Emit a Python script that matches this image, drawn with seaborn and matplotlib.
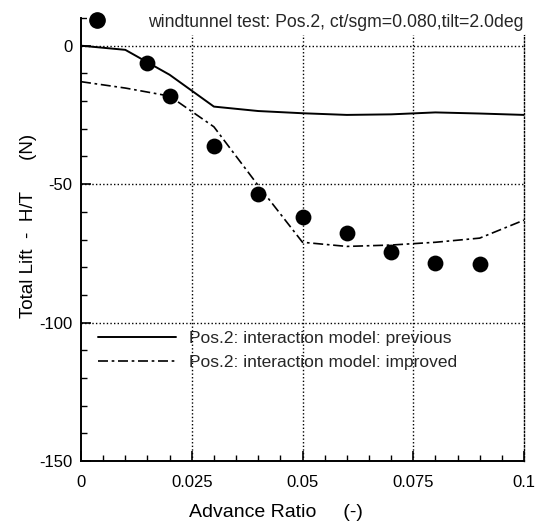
import matplotlib
matplotlib.use("Agg")
import matplotlib.pyplot as plt
from matplotlib.lines import Line2D
from matplotlib.ticker import MultipleLocator, FixedLocator
import seaborn as sns
import pandas as pd

# Advance ratio stations for the two interaction-model predictions
mu_model = [0.0, 0.01, 0.02, 0.03, 0.04, 0.05, 0.06, 0.07, 0.08, 0.09, 0.10]
lift_previous = [0.0, -1.5, -10.5, -22.0, -23.6, -24.4, -25.0, -24.8, -24.1, -24.5, -25.0]
lift_improved = [-13.0, -15.3, -18.2, -29.3, -50.5, -71.0, -72.5, -72.0, -71.0, -69.5, -63.0]

# Wind-tunnel measurements
mu_test = [0.015, 0.020, 0.030, 0.040, 0.050, 0.060, 0.070, 0.080, 0.090]
lift_test = [-6.2, -18.1, -36.2, -53.6, -62.0, -67.8, -74.6, -78.6, -79.0]

x_ticks = [0, 0.025, 0.05, 0.075, 0.1]
x_tick_labels = ["0", "0.025", "0.05", "0.075", "0.1"]
y_ticks = [0, -50, -100, -150]
y_tick_labels = ["0", "-50", "-100", "-150"]

label_test = "windtunnel test: Pos.2, ct/sgm=0.080,tilt=2.0deg"
label_previous = "Pos.2: interaction model: previous"
label_improved = "Pos.2: interaction model: improved"

sns.set_style("white")
plt.rcParams["font.family"] = ["Liberation Sans", "DejaVu Sans"]

fig = plt.figure(figsize=(5.41, 5.28), dpi=100)
ax = fig.add_axes([81 / 541, 1 - 461 / 528, 443 / 541, 443 / 528])

model = pd.DataFrame({"mu": mu_model, "previous": lift_previous, "improved": lift_improved})
test = pd.DataFrame({"mu": mu_test, "lift": lift_test})

dashdot = (6, 2.2, 1.6, 2.2)
sns.lineplot(data=model, x="mu", y="previous", ax=ax, color="black", lw=1.4,
             estimator=None, sort=False)
sns.lineplot(data=model, x="mu", y="improved", ax=ax, color="black", lw=1.2,
             estimator=None, sort=False)
ax.lines[-1].set_dashes(dashdot)
sns.scatterplot(data=test, x="mu", y="lift", ax=ax, color="black", s=130,
                edgecolor="black", linewidth=0, zorder=5)

ax.set_xlim(0, 0.1)
ax.set_ylim(-150, 10)
ax.xaxis.set_major_locator(FixedLocator(x_ticks))
ax.set_xticklabels(x_tick_labels)
ax.xaxis.set_minor_locator(MultipleLocator(0.005))
ax.yaxis.set_major_locator(FixedLocator(y_ticks))
ax.set_yticklabels(y_tick_labels)
ax.yaxis.set_minor_locator(MultipleLocator(10))

ax.tick_params(axis="both", which="major", direction="in", length=7, width=1.2,
               labelsize=12, color="black", labelcolor="black")
ax.tick_params(axis="x", which="major", pad=10)
ax.tick_params(axis="y", which="major", pad=6)
ax.tick_params(axis="both", which="minor", direction="in", length=4, width=1.0,
               color="black")
ax.tick_params(axis="x", which="both", top=False, bottom=True)
ax.tick_params(axis="y", which="both", left=True, right=False)

# Dotted grid at the major ticks
dot = (0, (1, 1.6))
for xv in x_ticks[1:-1]:
    ax.axvline(xv, color="black", lw=1.0, ls=dot, zorder=1)
for yv in y_ticks[:-1]:
    ax.axhline(yv, color="black", lw=1.0, ls=dot, zorder=1)

for side in ("left", "bottom"):
    ax.spines[side].set_color("black")
    ax.spines[side].set_linewidth(1.4)
ax.spines["top"].set_visible(False)
ax.spines["right"].set_color("black")
ax.spines["right"].set_linewidth(1.0)
ax.spines["right"].set_linestyle(dot)
ax.spines["right"].set_bounds(-150, 8)

ax.set_xlabel("Advance Ratio     (-)", fontsize=14, color="black")
ax.set_ylabel("Total Lift  -  H/T      (N)", fontsize=13.5, color="black")
ax.xaxis.set_label_coords(0.44, -0.098)
ax.yaxis.set_label_coords(-0.099, 0.53)

# Legend for the measurements, across the top
h_test = Line2D([], [], ls="none", marker="o", ms=11, color="black")
leg1 = ax.legend([h_test], [label_test], loc="upper left",
                 bbox_to_anchor=(0.014, 1.02), frameon=True, fontsize=12.7,
                 handlelength=0.6, handletextpad=2.6, borderpad=0.25,
                 borderaxespad=0.0)
leg1.get_frame().set_facecolor("white")
leg1.get_frame().set_edgecolor("none")
leg1.get_frame().set_alpha(1.0)
leg1.set_zorder(6)
ax.add_artist(leg1)

# Legend for the two model curves
h_prev = Line2D([], [], color="black", lw=1.4)
h_impr = Line2D([], [], color="black", lw=1.2, dashes=dashdot)
leg2 = ax.legend([h_prev, h_impr], [label_previous, label_improved],
                 loc="upper left", bbox_to_anchor=(0.038, 0.293), frameon=False,
                 fontsize=12.5, handlelength=4.5, handletextpad=0.75,
                 labelspacing=0.5, borderpad=0.0, borderaxespad=0.0)

fig.savefig("out.png", dpi=100, facecolor="white")
